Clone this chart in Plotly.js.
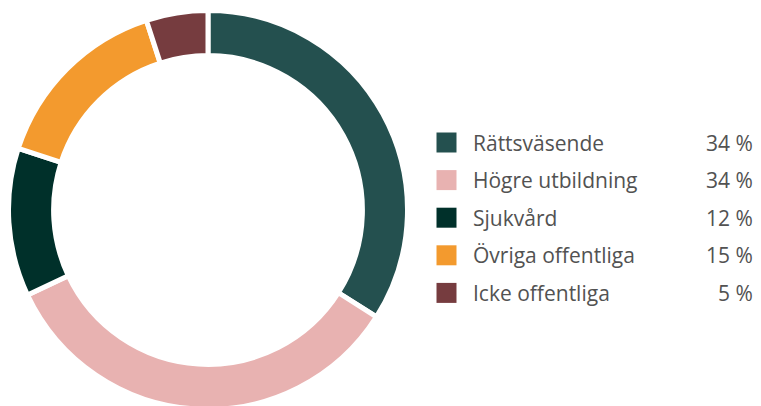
<!DOCTYPE html>
<html>
<head>
<meta charset="utf-8">
<script src="https://cdn.plot.ly/plotly-3.0.1.min.js"></script>
<style>
html,body{margin:0;padding:0;overflow:hidden;background:#fff;}
#chart{width:761px;height:410px;}
</style>
</head>
<body>
<div id="chart"></div>
<script>
const labels = ['Rättsväsende', 'Högre utbildning', 'Sjukvård', 'Övriga offentliga', 'Icke offentliga'];
const values = [34, 34, 12, 15, 5];
const colors = ['#24504f', '#e8b2b1', '#00302a', '#f39a2e', '#763c3f'];

const W = 761, H = 410;
const px = x => x / W;
const py = y => 1 - y / H;

const trace = {
  type: 'pie',
  labels: labels,
  values: values,
  sort: false,
  direction: 'clockwise',
  rotation: 0,
  hole: 0.774,
  textinfo: 'none',
  hoverinfo: 'label+percent',
  showlegend: false,
  marker: {colors: colors, line: {color: '#ffffff', width: 5}},
  domain: {x: [px(8.5), px(407.5)], y: [py(409.5), py(10.5)]}
};

const rowY0 = 142.5, rowStep = 37.6;
const shapes = [];
const annotations = [];
const txtColor = '#525252';
const fnt = {family: 'Open Sans, sans-serif', size: 21, color: txtColor};
labels.forEach((lab, i) => {
  const cy = rowY0 + i * rowStep;
  shapes.push({
    type: 'rect', xref: 'paper', yref: 'paper',
    x0: px(436.5), x1: px(456.5), y0: py(cy + 10), y1: py(cy - 10),
    fillcolor: colors[i], line: {width: 0}
  });
  annotations.push({
    xref: 'paper', yref: 'paper', x: px(471), y: py(cy),
    xanchor: 'left', yanchor: 'middle', showarrow: false,
    text: lab, font: fnt
  });
  annotations.push({
    xref: 'paper', yref: 'paper', x: px(755), y: py(cy),
    xanchor: 'right', yanchor: 'middle', showarrow: false,
    text: values[i] + ' %', font: fnt
  });
});

const layout = {
  width: W, height: H,
  margin: {l: 0, r: 0, t: 0, b: 0},
  paper_bgcolor: '#ffffff',
  showlegend: false,
  shapes: shapes,
  annotations: annotations
};

Plotly.newPlot('chart', [trace], layout, {displayModeBar: false, staticPlot: true});
</script>
</body>
</html>
